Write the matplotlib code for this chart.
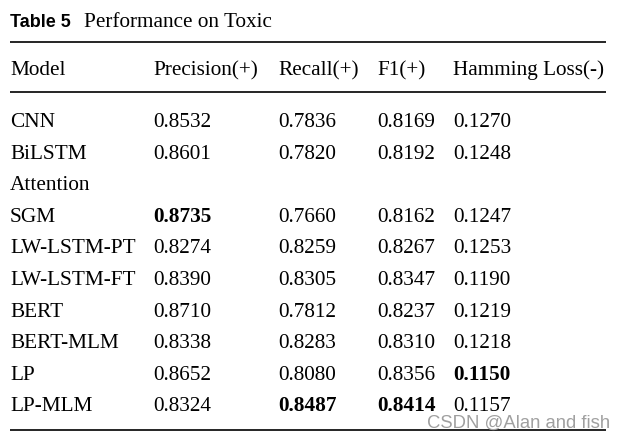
import matplotlib
matplotlib.use("Agg")
import matplotlib.pyplot as plt

title_bold = "Table 5"
title_rest = "Performance on Toxic"
headers = ["Model", "Precision(+)", "Recall(+)", "F1(+)", "Hamming Loss(-)"]
models = ["CNN", "BiLSTM\nAttention", "SGM", "LW-LSTM-PT", "LW-LSTM-FT",
          "BERT", "BERT-MLM", "LP", "LP-MLM"]
precision = ["0.8532", "0.8601", "0.8735", "0.8274", "0.8390", "0.8710", "0.8338", "0.8652", "0.8324"]
recall = ["0.7836", "0.7820", "0.7660", "0.8259", "0.8305", "0.7812", "0.8283", "0.8080", "0.8487"]
f1 = ["0.8169", "0.8192", "0.8162", "0.8267", "0.8347", "0.8237", "0.8310", "0.8356", "0.8414"]
hamming = ["0.1270", "0.1248", "0.1247", "0.1253", "0.1190", "0.1219", "0.1218", "0.1150", "0.1157"]
# bold (best) cells: (row index, column index 1..4)
best = [(2, 1), (8, 2), (8, 3), (7, 4)]
watermark = "CSDN @Alan and fish"

W, H = 618, 441
fig = plt.figure(figsize=(W / 100, H / 100), dpi=100)
ax = fig.add_axes([0, 0, 1, 1])
ax.set_xlim(0, W)
ax.set_ylim(H, 0)
ax.axis("off")

serif = "Liberation Serif"
fs = 15.3
col_x = [10, 153, 278, 377, 453]

# title
ax.text(10, 27, title_bold, fontfamily="Liberation Sans", fontweight="bold",
        fontsize=13, va="baseline", ha="left")
ax.text(84, 27, title_rest, fontfamily=serif, fontsize=fs, va="baseline", ha="left")

# rules
for yy in (42, 92, 430):
    ax.plot([10, 606], [yy, yy], color="black", lw=1.2, solid_capstyle="butt")

for x, h in zip(col_x, headers):
    ax.text(x, 75, h, fontfamily=serif, fontsize=fs, va="baseline", ha="left")

row_step = 31.6
y = 127
cols = [precision, recall, f1, hamming]
for i, m in enumerate(models):
    lines = m.split("\n")
    ax.text(col_x[0], y, lines[0], fontfamily=serif, fontsize=fs, va="baseline", ha="left")
    for j, c in enumerate(cols):
        bold = (i, j + 1) in best
        ax.text(col_x[j + 1], y, c[i], fontfamily=serif, fontsize=fs, va="baseline",
                ha="left", fontweight="bold" if bold else "normal")
    for extra in lines[1:]:
        y += row_step
        ax.text(col_x[0], y, extra, fontfamily=serif, fontsize=fs, va="baseline", ha="left")
    y += row_step

ax.text(610, 428, watermark, fontfamily="Liberation Sans", fontsize=13.3,
        color="#a0a0a0", va="baseline", ha="right")

fig.savefig("out.png", dpi=100, facecolor="white")
